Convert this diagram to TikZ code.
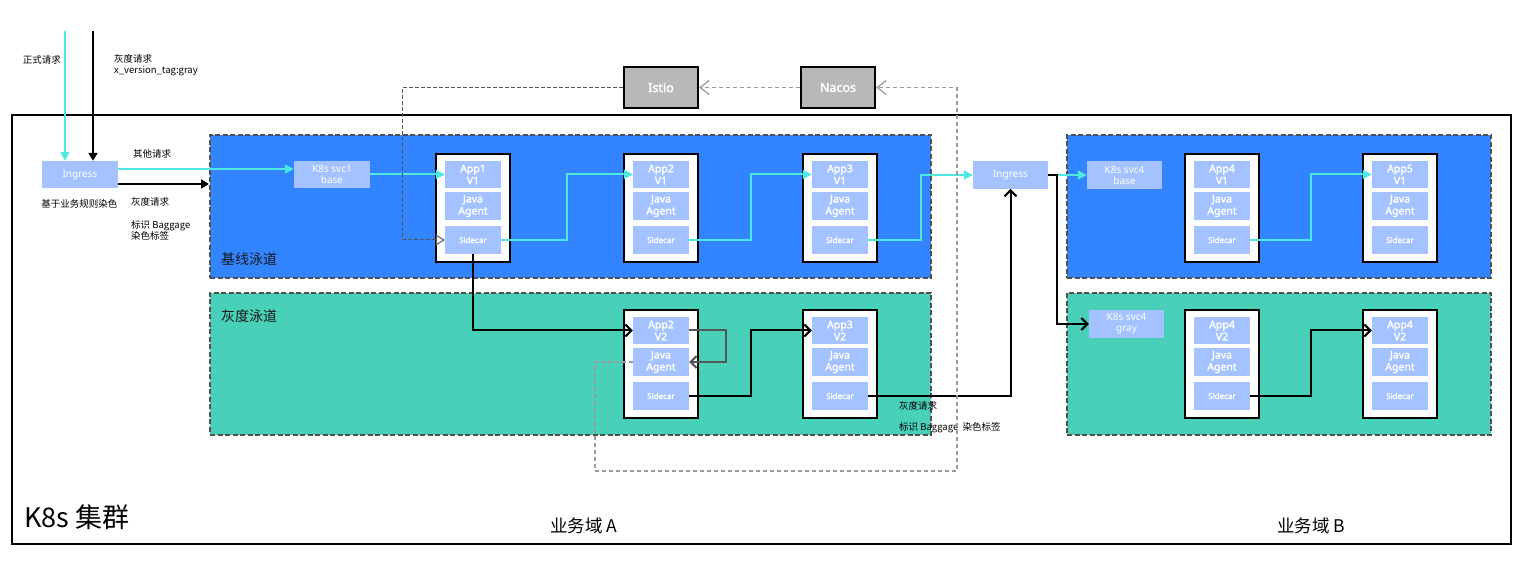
\documentclass[tikz,border=0pt]{standalone}
\usepackage{fontspec}
\setmainfont{Noto Sans CJK SC}
\newfontfamily\latf{Noto Sans}
\newfontfamily\latb{Noto Sans}[FakeBold=2]
\usetikzlibrary{arrows.meta}
\definecolor{laneblue}{HTML}{3385FF}
\definecolor{lanegreen}{HTML}{48D1B8}
\definecolor{lightb}{HTML}{A4C2FF}
\definecolor{cyanl}{HTML}{4DE8E0}
\definecolor{boxgray}{HTML}{B8B8B8}
\definecolor{dashgray}{HTML}{505050}
\definecolor{darkline}{HTML}{555555}
\definecolor{lightdash}{HTML}{9A9A9A}
\tikzset{
 lane/.style={draw=dashgray, line width=2pt, dash pattern=on 5pt off 2.5pt, inner sep=0},
 pod/.style={draw=black, line width=2.2pt, fill=white, minimum width=74pt, minimum height=108pt, inner sep=0},
 inbox/.style={fill=lightb, text=white, minimum width=56pt, minimum height=27.5pt, inner sep=0, align=center, font=\latb\fontsize{10.5}{12}\selectfont},
 sidebox/.style={inbox, font=\latb\fontsize{8}{9}\selectfont},
 svcbox/.style={fill=lightb, text=white, minimum width=76pt, minimum height=27.5pt, inner sep=0, align=center, font=\latf\fontsize{10}{11}\selectfont},
 ctrl/.style={draw=black, line width=2.2pt, fill=boxgray, text=white, minimum width=74pt, minimum height=41pt, inner sep=0, font=\latb\fontsize{12.5}{14}\selectfont},
 cy/.style={draw=cyanl, line width=2pt, -{Triangle[length=9pt,width=9pt]}},
 blk/.style={draw=black, line width=2pt, -{Triangle[length=8pt,width=9pt]}},
 barb/.style={draw=black, line width=2pt, -{Straight Barb[length=6pt,width=12pt]}},
 grayback/.style={draw=darkline, line width=2pt, -{Straight Barb[length=6pt,width=12pt]}},
 dshA/.style={draw=darkline, line width=1pt, dash pattern=on 4pt off 2pt, -{Triangle[open,length=9pt,width=11pt]}},
 dshB/.style={draw=lightdash, line width=1.3pt, dash pattern=on 4pt off 3pt, -{Straight Barb[length=9pt,width=14pt,line width=1.2pt]}},
 lbl/.style={font=\fontsize{9.5}{11}\selectfont, inner sep=0, anchor=west, align=left},
 lanelbl/.style={font=\fontsize{14}{16}\selectfont, inner sep=0, anchor=west, text=black!90},
}
\newcommand\mkpod[4]{%
 \node[pod] (#1) at ({#2+37},{#3+54}) {};
 \node[inbox] (#1a) at ({#2+37},{#3+20.5}) {#4};
 \node[inbox] (#1j) at ({#2+37},{#3+52}) {Java\\Agent};
 \node[sidebox] (#1s) at ({#2+37},{#3+86}) {Sidecar};
}
\begin{document}
\begin{tikzpicture}[x=1pt,y=-1pt]
\useasboundingbox[fill=white] (0,0) rectangle (1527,577);
% cluster
\node[draw=black, line width=1.3pt, minimum width=1499pt, minimum height=429pt, inner sep=0] (k8s) at (761.5,329.5) {};
% lanes
\node[lane, fill=laneblue, minimum width=721pt, minimum height=143pt] (lane1) at (570.5,206.5) {};
\node[lane, fill=lanegreen, minimum width=721pt, minimum height=141.5pt] (lane2) at (570.5,363.75) {};
\node[lane, fill=laneblue, minimum width=424pt, minimum height=143pt] (lane3) at (1279,206.5) {};
\node[lane, fill=lanegreen, minimum width=424pt, minimum height=141.5pt] (lane4) at (1279,363.75) {};
\node[lanelbl] (l1) at (221,259) {基线泳道};
\node[lanelbl] (l2) at (221,316) {灰度泳道};
% control plane
\node[ctrl] (istio) at (661,87.5) {Istio};
\node[ctrl] (nacos) at (838,87.5) {Nacos};
% ingress & services
\node[svcbox] (ing1) at (80,174.75) {Ingress};
\node[svcbox] (svc1) at (332,174.5) {K8s svc1\\base};
\node[svcbox, minimum width=75pt] (ing2) at (1010.5,175) {Ingress};
\node[svcbox, minimum width=75pt] (svc4b) at (1124.5,175) {K8s svc4\\base};
\node[svcbox, minimum width=75pt] (svc4g) at (1126.5,324) {K8s svc4\\gray};
% pods
\mkpod{pa}{436}{154}{App1\\V1}
\mkpod{pb}{624}{154}{App2\\V1}
\mkpod{pc}{803}{154}{App3\\V1}
\mkpod{pd}{624}{310}{App2\\V2}
\mkpod{pe}{803}{310}{App3\\V2}
\mkpod{pf}{1185}{154}{App4\\V1}
\mkpod{pg}{1363}{154}{App5\\V1}
\mkpod{ph}{1185}{310}{App4\\V2}
\mkpod{pi}{1363}{310}{App4\\V2}
% texts
\node[lbl, anchor=center] (t1) at (42,60) {正式请求};
\node[lbl] (t2) at (114,65.5) {灰度请求\\x\_version\_tag:gray};
\node[lbl] (t3) at (133,154) {其他请求};
\node[lbl, anchor=center] (t4) at (79.5,204) {基于业务规则染色};
\node[lbl] (t5) at (131,201.5) {灰度请求};
\node[lbl] (t6) at (131,230.5) {标识 Baggage\\染色标签};
\node[lbl] (t9) at (899,406) {灰度请求};
\node[lbl] (t10) at (899,428) {标识 Baggage\ \ 染色标签};
\node[font=\fontsize{27}{30}\selectfont, anchor=west, inner sep=0] (k8sl) at (24,517) {K8s 集群};
\node[font=\fontsize{17.5}{20}\selectfont, inner sep=0] (da) at (584,526) {业务域 A};
\node[font=\fontsize{17.5}{20}\selectfont, inner sep=0] (db) at (1311,526) {业务域 B};
% entry arrows
\coordinate (zs) at (65,31);
\coordinate (gs) at (93,31);
\draw[cy] (zs) -- (zs |- ing1.north);
\draw[blk] (gs) -- (gs |- ing1.north);
\coordinate (c1) at (0,169);
\coordinate (c2) at (0,184);
\draw[cy] (ing1.east |- c1) -- (svc1.west |- c1);
\draw[blk] (ing1.east |- c2) -- (lane1.west |- c2);
% baseline flow
\draw[cy] (svc1.east) -- (paa.west);
\draw[cy] (pas.east) -- ++(66,0) |- (pba.west);
\draw[cy] (pbs.east) -- ++(62,0) |- (pca.west);
\draw[cy] (pcs.east) -- ++(53,0) |- (ing2.west);
\draw[cy] (ing2.east) -- (svc4b.west);
\draw[cy] (pfs.east) -- ++(61,0) |- (pga.west);
% gray flow
\draw[barb] (pas.south) |- (pda.west);
\draw[grayback] (pda.east) -- ++(37,0) |- (pdj.east);
\draw[barb] (pds.east) -- ++(62,0) |- (pea.west);
\draw[barb] (pes.east) -| (ing2.south);
\draw[barb] (ing2.east) -- ++(9,0) |- (svc4g.west);
\draw[barb] (phs.east) -- ++(61,0) |- (pia.west);
% control plane dashed
\draw[dshB] (pdj.west) -| (595,471) -| (957,87.5) -- (nacos.east);
\draw[dshB] (nacos.west) -- (istio.east);
\draw[dshA] (istio.west) -- ++(-220,0) |- (pas.west);
\end{tikzpicture}
\end{document}
